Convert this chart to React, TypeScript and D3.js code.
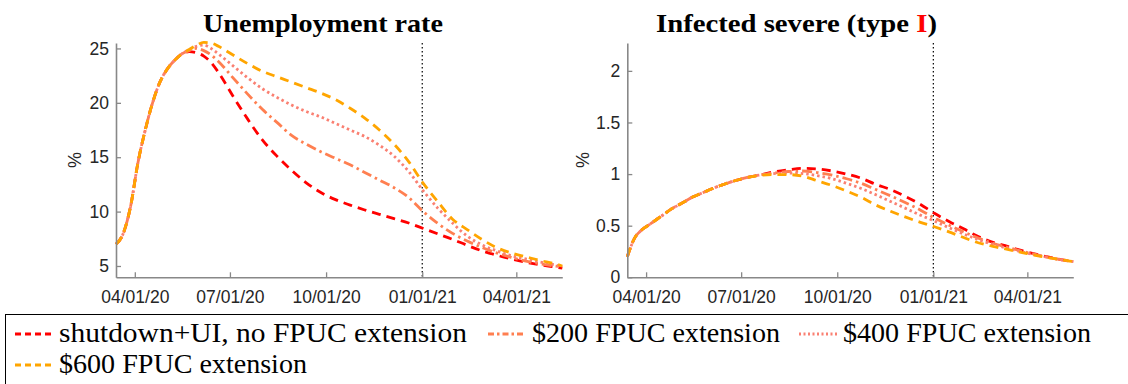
import React, { useEffect, useRef } from 'react';
import * as d3 from 'd3';

// weekly early on, then every two weeks
const dates = [
  '2020-03-14', '2020-03-21', '2020-03-28', '2020-04-04', '2020-04-11', '2020-04-18', '2020-04-25',
  '2020-05-02', '2020-05-09', '2020-05-16', '2020-05-23', '2020-05-30', '2020-06-06', '2020-06-13',
  '2020-06-20', '2020-07-04', '2020-07-18', '2020-08-01', '2020-08-15', '2020-08-29', '2020-09-12',
  '2020-09-26', '2020-10-10', '2020-10-24', '2020-11-07', '2020-11-21', '2020-12-05', '2020-12-19',
  '2021-01-02', '2021-01-16', '2021-01-30', '2021-02-13', '2021-02-27', '2021-03-13', '2021-03-27',
  '2021-04-10', '2021-04-24', '2021-05-08', '2021-05-15'
];

const unempRed = [7.0, 8.0, 10.5, 14.5, 17.5, 20.0, 21.9, 23.1, 23.9, 24.5, 24.7, 24.6, 24.3, 23.7, 22.8, 20.6, 18.5, 16.6, 15.1, 13.8, 12.65, 11.75, 11.1, 10.6, 10.15, 9.75, 9.35, 8.95, 8.45, 7.95, 7.45, 6.9, 6.4, 6.0, 5.65, 5.35, 5.1, 4.9, 4.8];
const unemp200 = [7.0, 8.0, 10.5, 14.5, 17.5, 20.0, 21.9, 23.1, 23.9, 24.5, 24.8, 25.0, 24.8, 24.4, 23.8, 22.3, 20.8, 19.4, 18.2, 17.0, 16.2, 15.5, 14.9, 14.3, 13.6, 12.9, 12.2, 11.3, 10.0, 8.9, 8.0, 7.3, 6.7, 6.2, 5.8, 5.45, 5.2, 5.0, 4.9];
const unemp400 = [7.0, 8.0, 10.5, 14.5, 17.5, 20.0, 21.9, 23.1, 23.9, 24.5, 24.9, 25.2, 25.3, 25.0, 24.5, 23.4, 22.3, 21.3, 20.5, 19.8, 19.2, 18.7, 18.1, 17.5, 16.9, 16.1, 15.1, 13.7, 11.9, 10.3, 8.95, 7.75, 6.95, 6.4, 5.95, 5.65, 5.35, 5.1, 4.95];
const unemp600 = [7.0, 8.0, 10.5, 14.5, 17.5, 20.0, 21.9, 23.1, 23.9, 24.5, 24.9, 25.3, 25.55, 25.5, 25.2, 24.4, 23.6, 22.9, 22.4, 21.9, 21.4, 20.9, 20.3, 19.5, 18.6, 17.5, 16.2, 14.6, 12.6, 10.9, 9.3, 8.35, 7.45, 6.7, 6.2, 5.85, 5.5, 5.2, 5.0];

const infRed = [0.2, 0.38, 0.46, 0.51, 0.56, 0.61, 0.66, 0.70, 0.74, 0.78, 0.81, 0.84, 0.87, 0.895, 0.92, 0.96, 0.99, 1.02, 1.04, 1.055, 1.05, 1.03, 1.0, 0.96, 0.9, 0.85, 0.785, 0.71, 0.62, 0.54, 0.47, 0.395, 0.34, 0.30, 0.258, 0.222, 0.19, 0.163, 0.152];
const inf200 = [0.2, 0.38, 0.46, 0.51, 0.56, 0.61, 0.66, 0.70, 0.74, 0.78, 0.81, 0.84, 0.87, 0.895, 0.92, 0.96, 0.99, 1.01, 1.025, 1.03, 1.015, 0.99, 0.955, 0.91, 0.85, 0.79, 0.725, 0.655, 0.575, 0.505, 0.44, 0.38, 0.33, 0.29, 0.252, 0.218, 0.188, 0.162, 0.152];
const inf400 = [0.2, 0.38, 0.46, 0.51, 0.56, 0.61, 0.66, 0.70, 0.74, 0.78, 0.81, 0.84, 0.87, 0.895, 0.92, 0.96, 0.99, 1.005, 1.01, 1.005, 0.985, 0.955, 0.91, 0.86, 0.80, 0.735, 0.67, 0.605, 0.545, 0.48, 0.42, 0.365, 0.32, 0.28, 0.245, 0.214, 0.186, 0.162, 0.152];
const inf600 = [0.2, 0.38, 0.46, 0.51, 0.56, 0.61, 0.66, 0.70, 0.74, 0.78, 0.81, 0.84, 0.87, 0.895, 0.92, 0.96, 0.985, 0.995, 0.995, 0.98, 0.935, 0.89, 0.835, 0.775, 0.70, 0.64, 0.585, 0.535, 0.49, 0.44, 0.385, 0.335, 0.30, 0.27, 0.24, 0.21, 0.185, 0.163, 0.152];

const seriesNames = ['shutdown+UI, no FPUC extension', '$200 FPUC extension', '$400 FPUC extension', '$600 FPUC extension'];
const xTickDates = ['2020-04-01', '2020-07-01', '2020-10-01', '2021-01-01', '2021-04-01'];
const unempTicks = [5, 10, 15, 20, 25];
const infTicks = [0, 0.5, 1, 1.5, 2];
const cutoffDate = '2021-01-01';

const styles = [
  { color: '#ff0000', dash: '9 6' },
  { color: '#ff7f50', dash: '10 4 2.5 4' },
  { color: '#fa8072', dash: '2.5 3' },
  { color: '#ffa500', dash: '9 6' }
];

const parse = d3.timeParse('%Y-%m-%d');
const fmt = d3.timeFormat('%m/%d/%y');
const sans = 'Liberation Sans';
const serif = 'Liberation Serif';

function drawPanel(svg, opt) {
  const x = d3.scaleTime()
    .domain([parse(dates[0]), parse(dates[dates.length - 1])])
    .range([opt.left, opt.right]);
  const y = d3.scaleLinear().domain(opt.yDomain).range([277.3, 43]);

  // cutoff line
  svg.append('line')
    .attr('x1', x(parse(cutoffDate))).attr('x2', x(parse(cutoffDate)))
    .attr('y1', 43).attr('y2', 277.3)
    .attr('stroke', '#000').attr('stroke-width', 1.2).attr('stroke-dasharray', '1.5 2.5');

  const line = d3.line()
    .x((d, i) => x(parse(dates[i])))
    .y(d => y(d))
    .curve(d3.curveMonotoneX);

  opt.series.forEach((vals, i) => {
    svg.append('path')
      .attr('d', line(vals))
      .attr('fill', 'none')
      .attr('stroke', styles[i].color)
      .attr('stroke-width', 2.8)
      .attr('stroke-dasharray', styles[i].dash);
  });

  const gx = svg.append('g').attr('transform', 'translate(0,277.3)')
    .call(d3.axisBottom(x).tickValues(xTickDates.map(parse)).tickFormat(fmt)
      .tickSizeInner(-5).tickSizeOuter(0).tickPadding(13));
  const gy = svg.append('g').attr('transform', `translate(${opt.left},0)`)
    .call(d3.axisLeft(y).tickValues(opt.yTicks).tickFormat(d => String(d))
      .tickSizeInner(-5).tickSizeOuter(0).tickPadding(7));

  [gx, gy].forEach(g => {
    g.attr('font-family', null).attr('font-size', null);
    g.select('.domain').attr('stroke', '#888').attr('stroke-width', 1.6);
    g.selectAll('.tick line').attr('stroke', '#888').attr('stroke-width', 1.3);
    g.selectAll('.tick text').attr('fill', '#262626')
      .attr('font-family', sans).attr('font-size', 17.5);
  });

  svg.append('text')
    .attr('transform', `translate(${opt.left - opt.labelGap},160) rotate(-90)`)
    .attr('text-anchor', 'middle')
    .attr('font-family', sans).attr('font-size', 18).attr('fill', '#262626')
    .text('%');
}

const App = () => {
  const svgRef = useRef(null);

  useEffect(() => {
    const svg = d3.select(svgRef.current);
    svg.selectAll('*').remove();

    drawPanel(svg, { left: 116, right: 562.3, yDomain: [3.96, 25.5], yTicks: unempTicks, labelGap: 35, series: [unempRed, unemp200, unemp400, unemp600] });
    drawPanel(svg, { left: 627.3, right: 1073.3, yDomain: [0, 2.27], yTicks: infTicks, labelGap: 38, series: [infRed, inf200, inf400, inf600] });

    // titles
    svg.append('text').attr('x', 203).attr('y', 32)
      .attr('textLength', 240).attr('lengthAdjust', 'spacingAndGlyphs')
      .attr('font-family', serif).attr('font-size', 26).attr('font-weight', 'bold')
      .text('Unemployment rate');
    const t2 = svg.append('text').attr('x', 656).attr('y', 32)
      .attr('textLength', 281).attr('lengthAdjust', 'spacingAndGlyphs')
      .attr('font-family', serif).attr('font-size', 26).attr('font-weight', 'bold');
    t2.append('tspan').text('Infected severe (type ');
    t2.append('tspan').attr('fill', '#ff0000').text('I');
    t2.append('tspan').text(')');

    // legend
    svg.append('rect').attr('x', 5.5).attr('y', 314.5).attr('width', 1130).attr('height', 90)
      .attr('fill', '#fff').attr('stroke', '#000').attr('stroke-width', 1);
    const items = [
      { x: 15, y: 342, w: 408 },
      { x: 488, y: 342, w: 248 },
      { x: 799, y: 342, w: 248 },
      { x: 15, y: 373, w: 248 }
    ];
    items.forEach((it, i) => {
      svg.append('line').attr('x1', it.x).attr('x2', it.x + 38)
        .attr('y1', it.y - 8).attr('y2', it.y - 8)
        .attr('stroke', styles[i].color).attr('stroke-width', 2.8)
        .attr('stroke-dasharray', i === 1 ? '6 3 2.5 3' : i === 2 ? '2 2.5' : '6 4');
      svg.append('text').attr('x', it.x + 44).attr('y', it.y)
        .attr('textLength', it.w).attr('lengthAdjust', 'spacingAndGlyphs')
        .attr('font-family', serif).attr('font-size', 27)
        .text(seriesNames[i]);
    });
  }, []);

  return <svg ref={svgRef} width={1128} height={384} style={{ position: 'absolute', left: 0, top: 0, background: '#fff' }}></svg>;
};

export default App;
